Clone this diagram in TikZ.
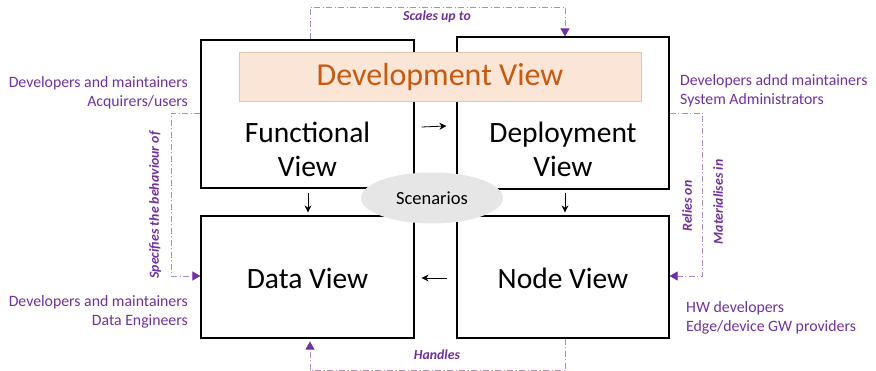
\documentclass[tikz,border=0pt]{standalone}
\usepackage{fontspec}
\setmainfont{Carlito}
\usetikzlibrary{arrows.meta,shapes.geometric}
\definecolor{vpurple}{HTML}{7030A0}
\definecolor{vline}{HTML}{A68CC8}
\definecolor{peach}{HTML}{FBE5D6}
\definecolor{peachedge}{HTML}{E2C6B4}
\definecolor{devorange}{HTML}{C55A11}
\definecolor{scengray}{HTML}{E6E6E6}

\begin{document}
\begin{tikzpicture}[x=1pt,y=-1pt,
  viewbox/.style={draw=black, line width=1.2pt, fill=white, inner sep=0pt},
  viewtext/.style={font=\fontsize{29.5}{34}\selectfont, align=center, inner sep=0pt},
  roles/.style={text=vpurple, font=\fontsize{15.8}{19}\selectfont, inner sep=0pt},
  rel/.style={text=vpurple, font=\fontsize{13.8}{15}\selectfont\bfseries\itshape, inner sep=0pt},
  flow/.style={draw=black, line width=0.8pt, -{Stealth[length=7pt,width=7pt]}},
  link/.style={draw=vline, line width=0.9pt,
    dash pattern=on 6pt off 2.5pt on 1pt off 2.5pt,
    -{Triangle[length=8pt,width=9pt,fill=vpurple,color=vpurple]}},
]
\useasboundingbox (0,0) rectangle (876,371);

% the four views
\node[viewbox, minimum width=213pt, minimum height=148pt] (fun) at (307.5,114) {};
\node[viewbox, minimum width=212pt, minimum height=152pt] (dep) at (563,113) {};
\node[viewbox, minimum width=213pt, minimum height=122pt] (data) at (307.5,277) {};
\node[viewbox, minimum width=212pt, minimum height=122pt] (nodev) at (563,277) {};

\node[viewtext] (funtxt) at (307.5,149) {Functional\\View};
\node[viewtext] (deptxt) at (563,149) {Deployment\\View};
\node[viewtext] (datatxt) at (307.5,278) {Data View};
\node[viewtext] (nodetxt) at (563,278) {Node View};

% development band across the two upper views
\node[draw=peachedge, fill=peach, line width=0.6pt, minimum width=402pt, minimum height=49pt,
      inner sep=0pt, text=devorange, font=\fontsize{32}{36}\selectfont] (devv) at (440,76.5) {Development View};

% flows between views
\draw[flow] ([shift={(7,13)}]fun.east) -- ([shift={(-10,13)}]dep.west);
\draw[flow] ([shift={(0.5,4)}]fun.south) -- ([shift={(0.5,-3)}]data.north);
\draw[flow] ([shift={(2,3)}]dep.south) -- ([shift={(2,-3)}]nodev.north);
\draw[flow] ([shift={(-9,1)}]nodev.west) -- ([shift={(7,1)}]data.east);

% scenarios in the middle
\node[ellipse, fill=scengray, minimum width=142pt, minimum height=51pt, inner sep=0pt,
      font=\fontsize{18.5}{20}\selectfont] (scen) at (432,198) {Scenarios};

% relations between views
\draw[link] ([xshift=2.5pt]fun.north) -- ++(0,-32) -| ([xshift=2pt]dep.north);
\draw[link] ([yshift=1pt]fun.west) -- ++(-29,0) |- ([yshift=1pt]data.west);
\draw[link] (dep.east) -- ++(33,0) |- ([yshift=1pt]nodev.east);
\draw[link, shorten >=3pt] ([xshift=2pt]nodev.south) -- ++(0,32) -| ([xshift=2.5pt]data.south);

\node[rel] (scales) at (437,17) {Scales up to};
\node[rel] (handles) at (437,355) {Handles};
\node[rel, rotate=90] (specifies) at (155,205) {Specifies the behaviour of};
\node[rel, rotate=90] (relies) at (687,206) {Relies on};
\node[rel, rotate=90] (materialises) at (718,202) {Materialises in};

% stakeholders of each view
\node[roles, align=right, anchor=east] (funroles) at (188,93) {Developers and maintainers\\Acquirers/users};
\node[roles, align=left, anchor=west] (deproles) at (680,91) {Developers adnd maintainers\\System Administrators};
\node[roles, align=right, anchor=east] (dataroles) at (188,312) {Developers and maintainers\\Data Engineers};
\node[roles, align=left, anchor=west] (noderoles) at (686,318) {HW developers\\Edge/device GW providers};
\end{tikzpicture}
\end{document}
